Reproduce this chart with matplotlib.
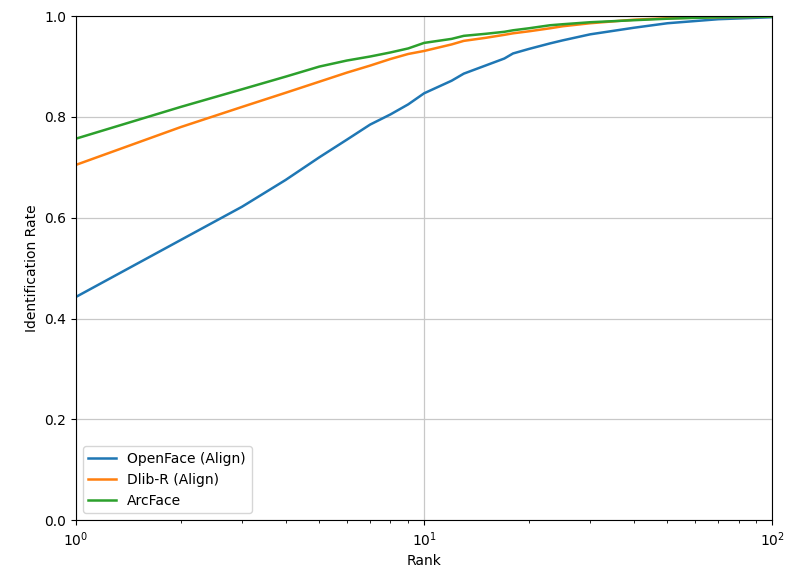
import matplotlib
matplotlib.use("Agg")
import matplotlib.pyplot as plt

ranks = [1, 2, 3, 4, 5, 6, 7, 8, 9, 10, 12, 13, 15, 17, 18, 20, 23, 25, 30, 40, 50, 70, 100]
openface = [0.443, 0.556, 0.622, 0.675, 0.72, 0.755, 0.785, 0.805, 0.825, 0.847,
            0.872, 0.886, 0.902, 0.916, 0.926, 0.935, 0.946, 0.952, 0.964, 0.977, 0.986, 0.994, 0.998]
dlib = [0.705, 0.78, 0.82, 0.848, 0.87, 0.888, 0.902, 0.915, 0.925, 0.931,
        0.944, 0.951, 0.957, 0.963, 0.966, 0.97, 0.976, 0.98, 0.986, 0.993, 0.996, 0.998, 0.999]
arcface = [0.757, 0.82, 0.855, 0.88, 0.9, 0.912, 0.92, 0.928, 0.936, 0.947,
           0.955, 0.961, 0.965, 0.969, 0.972, 0.976, 0.982, 0.984, 0.988, 0.992, 0.995, 0.998, 0.999]

fig = plt.figure(figsize=(7.88, 5.78), dpi=100)
ax = fig.add_axes([0.0964, 0.100, 0.8836, 0.872])

ax.plot(ranks, openface, label="OpenFace (Align)", color="#1f77b4", lw=1.8)
ax.plot(ranks, dlib, label="Dlib-R (Align)", color="#ff7f0e", lw=1.8)
ax.plot(ranks, arcface, label="ArcFace", color="#2ca02c", lw=1.8)

ax.set_xscale("log")
ax.set_xlim(1, 100)
ax.set_ylim(0, 1)
ax.grid(True, which="major", color="#c8c8c8", lw=0.9)
ax.set_xlabel("Rank")
ax.set_ylabel("Identification Rate")
ax.legend(loc="lower left")

fig.savefig("out.png", dpi=100)
